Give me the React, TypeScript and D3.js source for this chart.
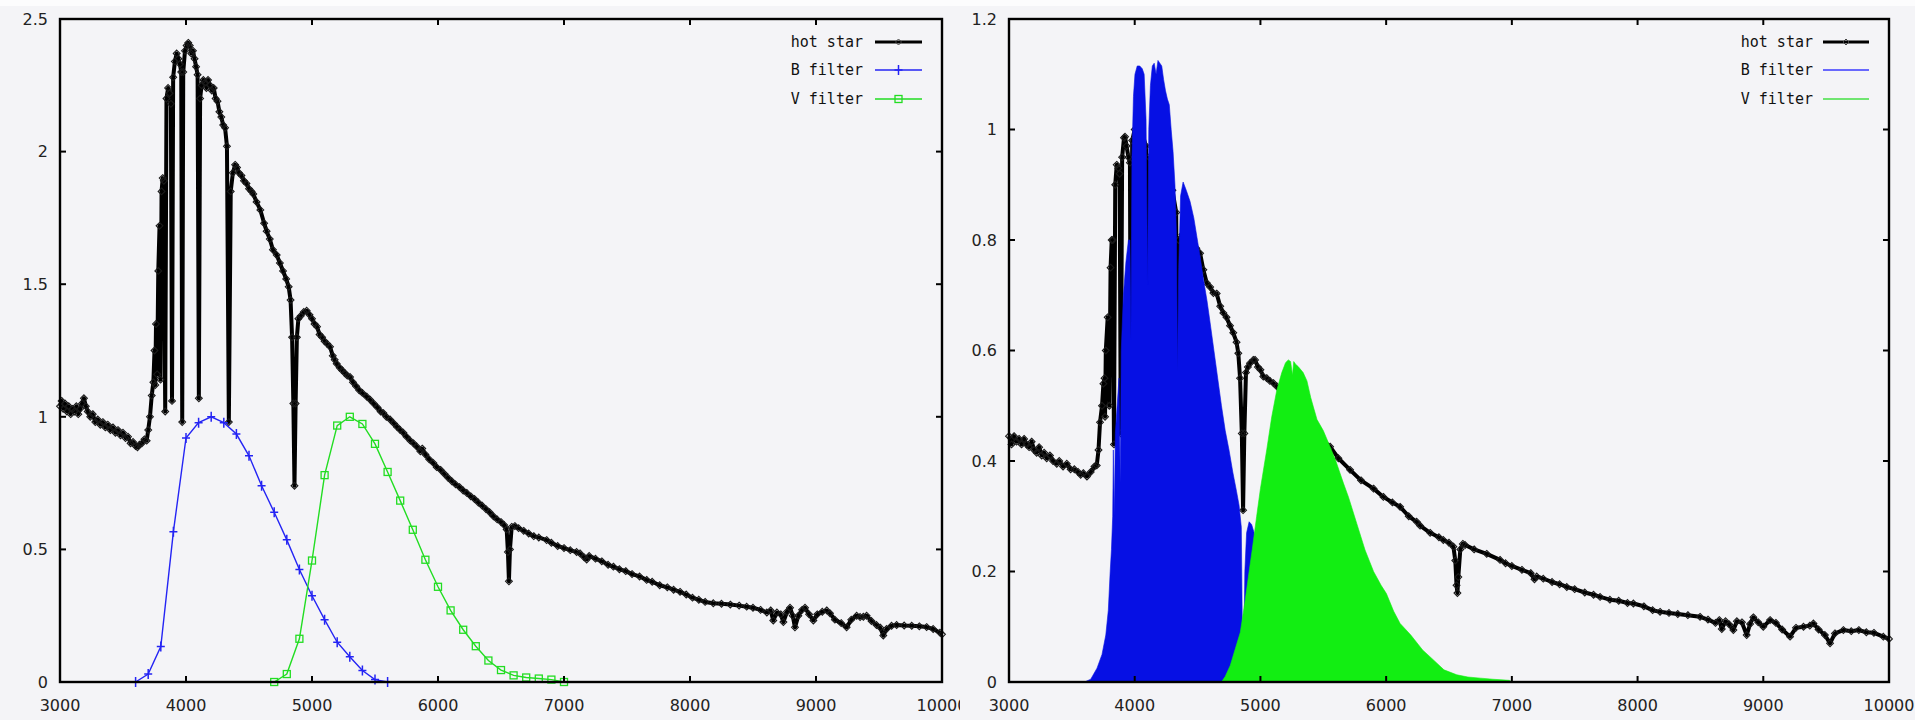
import React from 'react';
import * as d3 from 'd3';

const W = 1915;
const H = 720;

// ---------- data ----------
const xTicks = [3000, 4000, 5000, 6000, 7000, 8000, 9000, 10000];
const yTicksLeft = [0, 0.5, 1, 1.5, 2, 2.5];
const yTicksRight = [0, 0.2, 0.4, 0.6, 0.8, 1, 1.2];
const legendLabels = ['hot star', 'B filter', 'V filter'];

// left panel: hot star spectrum [wavelength, flux]
const starLeft: [number, number][] = [
  [3000, 1.04], [3013, 1.06], [3025, 1.03], [3040, 1.05], [3055, 1.02], [3070, 1.04], [3085, 1.01],
  [3100, 1.03], [3115, 1.02], [3130, 1.04], [3145, 1.01], [3160, 1.03], [3175, 1.05], [3190, 1.07],
  [3205, 1.04], [3220, 1.02], [3240, 1.0], [3260, 1.01], [3280, 0.98], [3300, 0.99], [3320, 0.97],
  [3340, 0.98], [3360, 0.96], [3380, 0.97], [3400, 0.95], [3420, 0.96], [3440, 0.94], [3460, 0.95],
  [3480, 0.93], [3500, 0.94], [3520, 0.92], [3540, 0.925], [3560, 0.9], [3580, 0.905], [3600, 0.89],
  [3615, 0.885], [3630, 0.895], [3650, 0.9], [3670, 0.915], [3688, 0.91], [3700, 0.95], [3714, 1.0],
  [3728, 1.08], [3741, 1.13], [3750, 1.25], [3756, 1.12], [3762, 1.35], [3771, 1.16], [3780, 1.55],
  [3790, 1.72], [3798, 1.14], [3806, 1.85], [3815, 1.9], [3824, 1.89], [3835, 1.02], [3845, 2.2],
  [3858, 2.24], [3870, 2.22], [3880, 2.18], [3889, 1.06], [3898, 2.28], [3912, 2.34], [3926, 2.37],
  [3940, 2.35], [3952, 2.33], [3962, 2.3], [3970, 0.98], [3978, 2.3], [3992, 2.38], [4005, 2.4],
  [4018, 2.41], [4030, 2.4], [4042, 2.37], [4055, 2.38], [4068, 2.35], [4080, 2.32], [4092, 2.29],
  [4102, 1.07], [4112, 2.2], [4124, 2.25], [4138, 2.27], [4150, 2.26], [4162, 2.24], [4175, 2.27],
  [4190, 2.25], [4205, 2.23], [4220, 2.24], [4235, 2.2], [4250, 2.19], [4265, 2.15], [4280, 2.13],
  [4295, 2.1], [4310, 2.09], [4325, 2.02], [4340, 0.98], [4355, 1.85], [4372, 1.92], [4390, 1.95],
  [4405, 1.94], [4420, 1.92], [4440, 1.91], [4460, 1.89], [4480, 1.88], [4500, 1.86], [4520, 1.85],
  [4534, 1.84], [4560, 1.81], [4590, 1.78], [4620, 1.73], [4640, 1.7], [4665, 1.67], [4690, 1.63],
  [4720, 1.61], [4745, 1.58], [4770, 1.55], [4795, 1.52], [4815, 1.49], [4830, 1.44], [4842, 1.3],
  [4852, 1.05], [4861, 0.74], [4870, 1.05], [4880, 1.3], [4892, 1.37], [4910, 1.38], [4935, 1.395],
  [4958, 1.4], [4980, 1.385], [5000, 1.37], [5020, 1.35], [5040, 1.34], [5060, 1.31], [5080, 1.3],
  [5100, 1.285], [5120, 1.275], [5143, 1.264], [5165, 1.23], [5180, 1.215], [5196, 1.2], [5220, 1.185],
  [5240, 1.175], [5260, 1.165], [5280, 1.155], [5302, 1.15], [5325, 1.13], [5350, 1.115], [5375, 1.1],
  [5400, 1.09], [5434, 1.076], [5460, 1.065], [5490, 1.05], [5520, 1.035], [5545, 1.02], [5566, 1.014],
  [5590, 1.0], [5620, 0.99], [5650, 0.975], [5675, 0.962], [5698, 0.951], [5725, 0.94], [5750, 0.925],
  [5780, 0.91], [5805, 0.9], [5831, 0.888], [5860, 0.87], [5875, 0.88], [5900, 0.858], [5930, 0.84],
  [5963, 0.826], [5990, 0.81], [6020, 0.8], [6050, 0.785], [6080, 0.77], [6110, 0.757], [6140, 0.745],
  [6170, 0.735], [6200, 0.722], [6228, 0.713], [6260, 0.7], [6290, 0.69], [6320, 0.677], [6350, 0.665],
  [6380, 0.652], [6410, 0.64], [6440, 0.625], [6470, 0.613], [6500, 0.603], [6525, 0.592], [6545, 0.575],
  [6555, 0.49], [6563, 0.38], [6571, 0.5], [6585, 0.585], [6610, 0.588], [6640, 0.58], [6680, 0.57],
  [6720, 0.56], [6760, 0.55], [6800, 0.545], [6862, 0.535], [6900, 0.525], [6950, 0.513], [7000, 0.505],
  [7050, 0.497], [7100, 0.49], [7127, 0.485], [7160, 0.47], [7180, 0.462], [7200, 0.475], [7250, 0.465],
  [7300, 0.455], [7350, 0.442], [7392, 0.435], [7440, 0.425], [7490, 0.418], [7540, 0.407], [7600, 0.398],
  [7656, 0.385], [7700, 0.378], [7760, 0.365], [7820, 0.357], [7870, 0.348], [7921, 0.34], [7970, 0.33],
  [8020, 0.318], [8070, 0.31], [8120, 0.302], [8185, 0.297], [8250, 0.295], [8320, 0.292], [8390, 0.288],
  [8450, 0.284], [8500, 0.28], [8560, 0.272], [8610, 0.262], [8640, 0.27], [8661, 0.232], [8690, 0.262],
  [8720, 0.255], [8741, 0.226], [8770, 0.265], [8794, 0.28], [8815, 0.25], [8833, 0.206], [8860, 0.25],
  [8890, 0.272], [8913, 0.28], [8945, 0.255], [8979, 0.232], [9010, 0.255], [9050, 0.265], [9085, 0.27],
  [9111, 0.259], [9150, 0.235], [9200, 0.222], [9243, 0.206], [9280, 0.235], [9323, 0.25], [9350, 0.245],
  [9376, 0.246], [9402, 0.25], [9440, 0.23], [9480, 0.215], [9510, 0.205], [9534, 0.175], [9560, 0.2],
  [9600, 0.212], [9640, 0.215], [9700, 0.213], [9760, 0.212], [9820, 0.21], [9878, 0.207], [9930, 0.2],
  [9984, 0.186], [10000, 0.18],
];

// left panel: Johnson B and V filter transmission
const bFilter: [number, number][] = [
  [3600, 0], [3700, 0.03], [3800, 0.134], [3900, 0.567], [4000, 0.92], [4100, 0.978], [4200, 1.0],
  [4300, 0.978], [4400, 0.935], [4500, 0.853], [4600, 0.74], [4700, 0.64], [4800, 0.536], [4900, 0.424],
  [5000, 0.325], [5100, 0.235], [5200, 0.15], [5300, 0.095], [5400, 0.043], [5500, 0.009], [5600, 0],
];
const vFilter: [number, number][] = [
  [4700, 0], [4800, 0.03], [4900, 0.163], [5000, 0.458], [5100, 0.78], [5200, 0.967], [5300, 1.0],
  [5400, 0.973], [5500, 0.898], [5600, 0.792], [5700, 0.684], [5800, 0.574], [5900, 0.461], [6000, 0.359],
  [6100, 0.27], [6200, 0.197], [6300, 0.135], [6400, 0.081], [6500, 0.045], [6600, 0.025], [6700, 0.017],
  [6800, 0.013], [6900, 0.009], [7000, 0],
];

// right panel: hot star spectrum (other normalisation)
const starRight: [number, number][] = [
  [3000, 0.445], [3020, 0.43], [3040, 0.445], [3060, 0.435], [3080, 0.44], [3100, 0.43], [3120, 0.44],
  [3140, 0.43], [3160, 0.425], [3180, 0.435], [3200, 0.42], [3220, 0.415], [3240, 0.425], [3260, 0.41],
  [3280, 0.415], [3300, 0.405], [3326, 0.41], [3350, 0.4], [3380, 0.395], [3400, 0.4], [3430, 0.39],
  [3460, 0.395], [3490, 0.385], [3520, 0.385], [3550, 0.38], [3570, 0.375], [3591, 0.378], [3620, 0.372],
  [3650, 0.38], [3680, 0.39], [3698, 0.392], [3712, 0.42], [3724, 0.47], [3740, 0.5], [3751, 0.54],
  [3760, 0.55], [3764, 0.48], [3770, 0.6], [3785, 0.66], [3798, 0.5], [3808, 0.75], [3817, 0.8],
  [3826, 0.8], [3835, 0.43], [3845, 0.9], [3857, 0.936], [3870, 0.93], [3880, 0.92], [3889, 0.45],
  [3900, 0.95], [3915, 0.985], [3923, 0.987], [3935, 0.97], [3950, 0.95], [3962, 0.94], [3970, 0.41],
  [3980, 0.98], [4000, 1.0], [4050, 1.0], [4090, 0.97], [4102, 0.45], [4115, 0.95], [4150, 0.95],
  [4200, 0.945], [4250, 0.925], [4300, 0.89], [4330, 0.85], [4340, 0.41], [4350, 0.8], [4380, 0.81],
  [4420, 0.8], [4460, 0.795], [4490, 0.785], [4520, 0.776], [4546, 0.746], [4573, 0.722], [4600, 0.715],
  [4626, 0.704], [4652, 0.703], [4680, 0.68], [4705, 0.668], [4730, 0.66], [4758, 0.645], [4784, 0.632],
  [4810, 0.615], [4824, 0.595], [4838, 0.55], [4852, 0.45], [4862, 0.311], [4872, 0.45], [4885, 0.56],
  [4900, 0.57], [4917, 0.577], [4943, 0.583], [4957, 0.583], [4980, 0.57], [5000, 0.565], [5023, 0.553],
  [5050, 0.55], [5075, 0.545], [5103, 0.541], [5130, 0.535], [5200, 0.51], [5300, 0.48], [5400, 0.455],
  [5480, 0.44], [5554, 0.426], [5620, 0.405], [5713, 0.384], [5800, 0.365], [5900, 0.35], [5978, 0.335],
  [6050, 0.325], [6111, 0.317], [6180, 0.3], [6243, 0.29], [6270, 0.283], [6350, 0.27], [6420, 0.262],
  [6455, 0.257], [6500, 0.252], [6535, 0.245], [6550, 0.22], [6560, 0.175], [6567, 0.161], [6574, 0.19],
  [6590, 0.24], [6610, 0.25], [6628, 0.248], [6700, 0.24], [6800, 0.232], [6906, 0.221], [6950, 0.215],
  [7000, 0.21], [7080, 0.203], [7150, 0.197], [7180, 0.186], [7198, 0.191], [7250, 0.187], [7320, 0.181],
  [7380, 0.177], [7437, 0.172], [7500, 0.168], [7580, 0.162], [7650, 0.158], [7702, 0.154], [7780, 0.149],
  [7850, 0.147], [7920, 0.143], [7967, 0.142], [8050, 0.137], [8120, 0.13], [8179, 0.127], [8250, 0.125],
  [8320, 0.123], [8400, 0.121], [8497, 0.118], [8560, 0.113], [8620, 0.107], [8650, 0.112], [8670, 0.096],
  [8700, 0.11], [8730, 0.104], [8762, 0.094], [8790, 0.11], [8830, 0.108], [8868, 0.085], [8895, 0.105],
  [8921, 0.117], [8960, 0.108], [9000, 0.1], [9054, 0.112], [9100, 0.107], [9150, 0.095], [9213, 0.082],
  [9260, 0.098], [9320, 0.1], [9370, 0.102], [9399, 0.106], [9440, 0.095], [9490, 0.085], [9531, 0.07],
  [9570, 0.088], [9637, 0.094], [9700, 0.092], [9760, 0.094], [9820, 0.09], [9880, 0.089], [9955, 0.082],
  [10000, 0.078],
];

// right panel: flux seen through the B filter
const bFlux: [number, number][] = [
  [3600, 0], [3650, 0.005], [3700, 0.025], [3740, 0.05], [3770, 0.085], [3790, 0.13], [3805, 0.2],
  [3815, 0.24], [3825, 0.3], [3830, 0.42], [3838, 0.3], [3846, 0.45], [3860, 0.5], [3875, 0.55],
  [3885, 0.36], [3893, 0.6], [3910, 0.7], [3930, 0.76], [3950, 0.8], [3962, 0.8], [3970, 0.62],
  [3978, 0.95], [3990, 1.06], [4002, 1.1], [4020, 1.115], [4040, 1.115], [4060, 1.11], [4075, 1.1],
  [4090, 1.02], [4102, 0.72], [4112, 1.0], [4125, 1.08], [4140, 1.115], [4155, 1.12], [4170, 1.1],
  [4185, 1.125], [4200, 1.12], [4215, 1.115], [4230, 1.09], [4245, 1.07], [4260, 1.055], [4275, 1.045],
  [4290, 1.0], [4305, 0.96], [4320, 0.9], [4332, 0.81], [4340, 0.56], [4350, 0.75], [4365, 0.88],
  [4385, 0.905], [4410, 0.89], [4440, 0.87], [4470, 0.84], [4495, 0.805], [4520, 0.77], [4546, 0.73],
  [4575, 0.69], [4600, 0.65], [4630, 0.6], [4660, 0.55], [4690, 0.5], [4720, 0.455], [4750, 0.42],
  [4780, 0.38], [4810, 0.345], [4830, 0.32], [4848, 0.28], [4858, 0.05], [4866, 0.02], [4876, 0.2],
  [4890, 0.27], [4910, 0.29], [4930, 0.285], [4950, 0.27], [5000, 0.22], [5100, 0.15], [5200, 0.095],
  [5300, 0.06], [5400, 0.025], [5500, 0.005], [5600, 0],
];

// right panel: flux seen through the V filter
const vFlux: [number, number][] = [
  [4690, 0], [4720, 0.01], [4760, 0.03], [4800, 0.06], [4840, 0.09], [4880, 0.15], [4910, 0.2],
  [4935, 0.24], [4970, 0.3], [5000, 0.35], [5050, 0.42], [5090, 0.48], [5130, 0.528], [5170, 0.56],
  [5200, 0.578], [5222, 0.583], [5240, 0.58], [5255, 0.555], [5265, 0.58], [5280, 0.575], [5300, 0.571],
  [5340, 0.56], [5370, 0.545], [5400, 0.515], [5421, 0.498], [5450, 0.475], [5500, 0.455], [5554, 0.426],
  [5600, 0.4], [5660, 0.36], [5700, 0.335], [5766, 0.287], [5832, 0.239], [5900, 0.2], [5960, 0.175],
  [6002, 0.16], [6060, 0.128], [6111, 0.106], [6196, 0.085], [6290, 0.058], [6376, 0.04], [6460, 0.022],
  [6562, 0.013], [6650, 0.009], [6750, 0.007], [6850, 0.005], [6980, 0.003], [7000, 0],
];

// ---------- styles ----------
const TOP = 19;
const BOTTOM = 682;
const LEFT_X = [60, 942];
const RIGHT_X = [1009, 1889];
const BG = '#f4f4f7';
const AXIS_FONT = '"DejaVu Sans", sans-serif';
const MONO_FONT = '"DejaVu Sans Mono", monospace';

type Pt = [number, number];

function diamond(cx: number, cy: number, r: number) {
  return `M${cx},${cy - r}L${cx + r},${cy}L${cx},${cy + r}L${cx - r},${cy}Z`;
}

function Frame({ x, y, yTicks }: { x: d3.ScaleLinear<number, number>; y: d3.ScaleLinear<number, number>; yTicks: number[] }) {
  const [x0, x1] = x.range();
  const [yb, yt] = y.range();
  return (
    <g>
      {xTicks.map((t) => (
        <g key={'x' + t}>
          <line x1={x(t)} x2={x(t)} y1={yb} y2={yb - 6} stroke="#000" strokeWidth={2} />
          <line x1={x(t)} x2={x(t)} y1={yt} y2={yt + 6} stroke="#000" strokeWidth={2} />
          <text x={x(t)} y={711} textAnchor="middle" fontFamily={AXIS_FONT} fontSize={16} fill="#222">
            {String(t)}
          </text>
        </g>
      ))}
      {yTicks.map((t) => (
        <g key={'y' + t}>
          <line x1={x0} x2={x0 + 6} y1={y(t)} y2={y(t)} stroke="#000" strokeWidth={2} />
          <line x1={x1} x2={x1 - 6} y1={y(t)} y2={y(t)} stroke="#000" strokeWidth={2} />
          <text x={x0 - 12} y={y(t)} dy="0.36em" textAnchor="end" fontFamily={AXIS_FONT} fontSize={16} fill="#222">
            {String(t)}
          </text>
        </g>
      ))}
      <rect x={x0} y={yt} width={x1 - x0} height={yb - yt} fill="none" stroke="#000" strokeWidth={2.4} />
    </g>
  );
}

function Legend({ textRight, lineX0, lineX1, markers, colors }: {
  textRight: number; lineX0: number; lineX1: number; markers: boolean; colors: string[];
}) {
  const rows = [42, 70, 99];
  const mid = (lineX0 + lineX1) / 2;
  return (
    <g>
      {legendLabels.map((lab, i) => (
        <g key={lab}>
          <text x={textRight} y={rows[i]} dy="0.35em" textAnchor="end" fontFamily={MONO_FONT} fontSize={15} fill="#111">
            {lab}
          </text>
          <line x1={lineX0} x2={lineX1} y1={rows[i]} y2={rows[i]} stroke={colors[i]} strokeWidth={i === 0 ? 3.2 : 1.6} />
          {i === 0 && <path d={diamond(mid, rows[i], 3)} fill="none" stroke="#444" strokeWidth={1} />}
          {markers && i === 1 && (
            <path d={`M${mid - 4},${rows[i]}H${mid + 4}M${mid},${rows[i] - 5}V${rows[i] + 5}`} stroke={colors[1]} strokeWidth={1.5} />
          )}
          {markers && i === 2 && (
            <rect x={mid - 3.5} y={rows[i] - 3.5} width={7} height={7} fill="none" stroke={colors[2]} strokeWidth={1.3} />
          )}
        </g>
      ))}
    </g>
  );
}

function StarLine({ data, x, y }: { data: Pt[]; x: d3.ScaleLinear<number, number>; y: d3.ScaleLinear<number, number> }) {
  const line = d3.line<Pt>().x((d) => x(d[0])).y((d) => y(d[1]));
  return (
    <g>
      <path d={line(data) || ''} fill="none" stroke="#000" strokeWidth={4} strokeLinejoin="round" />
      {data.map((d, i) => (
        <path key={i} d={diamond(x(d[0]), y(d[1]), 3.4)} fill="none" stroke="#1a1a1a" strokeWidth={1.1} />
      ))}
    </g>
  );
}

function LeftPanel() {
  const x = d3.scaleLinear().domain([3000, 10000]).range(LEFT_X);
  const y = d3.scaleLinear().domain([0, 2.5]).range([BOTTOM, TOP]);
  const line = d3.line<Pt>().x((d) => x(d[0])).y((d) => y(d[1]));
  const blue = '#2424f4';
  const green = '#22dd22';
  return (
    <g clipPath="url(#leftClip)">
      <StarLine data={starLeft} x={x} y={y} />
      <path d={line(bFilter) || ''} fill="none" stroke={blue} strokeWidth={1.4} />
      {bFilter.map((d, i) => {
        const cx = x(d[0]);
        const cy = y(d[1]);
        return <path key={'b' + i} d={`M${cx - 4},${cy}H${cx + 4}M${cx},${cy - 5}V${cy + 5}`} stroke={blue} strokeWidth={1.5} />;
      })}
      <path d={line(vFilter) || ''} fill="none" stroke={green} strokeWidth={1.4} />
      {vFilter.map((d, i) => (
        <rect key={'v' + i} x={x(d[0]) - 3.5} y={y(d[1]) - 3.5} width={7} height={7} fill="none" stroke={green} strokeWidth={1.3} />
      ))}
      <Frame x={x} y={y} yTicks={yTicksLeft} />
      <Legend textRight={863} lineX0={875} lineX1={922} markers={true} colors={['#000', blue, green]} />
    </g>
  );
}

function RightPanel() {
  const x = d3.scaleLinear().domain([3000, 10000]).range(RIGHT_X);
  const y = d3.scaleLinear().domain([0, 1.2]).range([BOTTOM, TOP]);
  const area = d3.area<Pt>().x((d) => x(d[0])).y0(y(0)).y1((d) => y(d[1]));
  return (
    <g>
      <StarLine data={starRight} x={x} y={y} />
      <path d={area(bFlux) || ''} fill="#0610e4" stroke="#0610e4" strokeWidth={0.6} />
      <path d={area(vFlux) || ''} fill="#12ee12" stroke="#12ee12" strokeWidth={0.6} />
      <Frame x={x} y={y} yTicks={yTicksRight} />
      <Legend textRight={1813} lineX0={1823} lineX1={1869} markers={false} colors={['#000', '#3a3aff', '#44e044']} />
    </g>
  );
}

export default function App() {
  return (
    <svg
      width={W}
      height={H}
      viewBox={`0 0 ${W} ${H}`}
      style={{ position: 'absolute', left: 0, top: 0, display: 'block' }}
    >
      <defs>
        <clipPath id="leftClip">
          <rect x={0} y={0} width={960} height={H} />
        </clipPath>
      </defs>
      <rect x={0} y={0} width={W} height={H} fill={BG} />
      <rect x={0} y={0} width={W} height={6} fill="#fcfcfd" />
      <LeftPanel />
      <RightPanel />
    </svg>
  );
}
